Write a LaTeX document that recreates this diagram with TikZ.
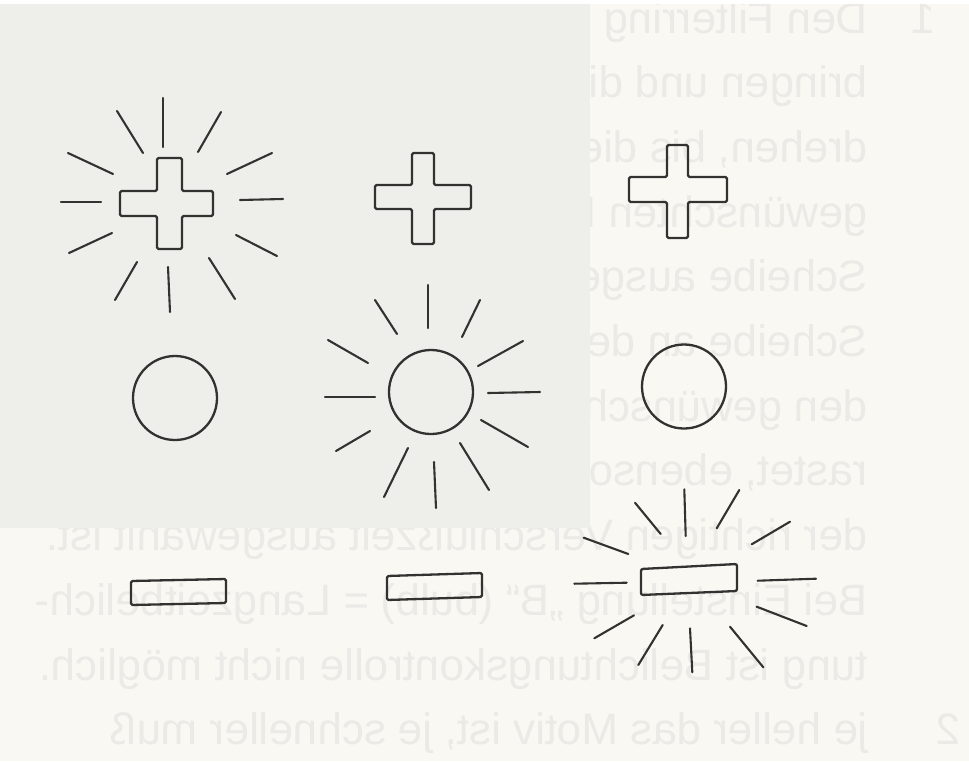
\documentclass[tikz,border=0pt]{standalone}
\usepackage{fontspec}
\newfontfamily\showfont{Liberation Sans}
\definecolor{bgcream}{RGB}{250,248,243}
\definecolor{tint}{RGB}{238,238,235}
\definecolor{ghost}{RGB}{236,234,230}
\definecolor{ink}{RGB}{50,50,48}
\tikzset{
  outline/.style={draw=ink,line width=2.3pt,line join=round},
  ray/.style={draw=ink,line width=2.1pt,line cap=round},
  ghosttext/.style={anchor=base east,inner sep=0pt,text=ghost,font=\showfont\fontsize{44}{44}\selectfont}
}
\begin{document}
\begin{tikzpicture}[x=1pt,y=-1pt]
\useasboundingbox (0,0) rectangle (969,761);
\fill[bgcream] (0,0) rectangle (969,761);
% show-through text of the back page (mirrored)
\node[ghosttext] (t1) at (868,33) {\reflectbox{Den Filterring bis zum Anschlag vorziehen,}};
\node[ghosttext] (t2) at (868,97.7) {\reflectbox{bringen und die Filterscheibe so lange}};
\node[ghosttext] (t3) at (868,162.4) {\reflectbox{drehen, bis die Kennzahl des}};
\node[ghosttext] (t4) at (868,227.1) {\reflectbox{gewünschten Filters im Fenster der}};
\node[ghosttext] (t5) at (868,291.8) {\reflectbox{Scheibe ausgerichtet ist. Dann die}};
\node[ghosttext] (t6) at (868,356.5) {\reflectbox{Scheibe an den Ring drücken, bis}};
\node[ghosttext] (t7) at (868,421.2) {\reflectbox{den gewünschten Filter einrastet.}};
\node[ghosttext] (t8) at (868,485.9) {\reflectbox{rastet, ebenso wie der Ring, bei}};
\node[ghosttext] (t9) at (868,550.6) {\reflectbox{der richtigen Verschlußzeit ausgewählt ist.}};
\node[ghosttext] (t10) at (868,615.3) {\reflectbox{Bei Einstellung „B“ (bulb) = Langzeitbelich-}};
\node[ghosttext] (t11) at (868,680) {\reflectbox{tung ist Belichtungskontrolle nicht möglich.}};
\node[ghosttext] (t12) at (868,744.7) {\reflectbox{je heller das Motiv ist, je schneller muß}};
\node[ghosttext] (n1) at (936,33) {\reflectbox{1}};
\node[ghosttext] (n2) at (961,744.7) {\reflectbox{2}};
% greyish area of the scan
\fill[tint] (0,4) rectangle (590,528);
\fill[white] (0,0) rectangle (969,4);
% ---- top row: crosses ----
\coordinate (plusA) at (168,203);
\coordinate (plusB) at (423,197);
\coordinate (plusC) at (678,190);
\draw[outline,rounded corners=1.5pt] (157,158) -- (182,158) -- (182,191) -- (213,191) -- (213,216) -- (182,216) -- (182,249) -- (157,249) -- (157,216) -- (120,216) -- (120,191) -- (157,191) -- cycle;
\draw[outline,rounded corners=1.5pt] (412,153) -- (434,153) -- (434,185) -- (471,185) -- (471,209) -- (434,209) -- (434,244) -- (412,244) -- (412,209) -- (375,209) -- (375,185) -- (412,185) -- cycle;
\draw[outline,rounded corners=1.5pt] (667,145) -- (688,145) -- (688,177) -- (727,177) -- (727,202) -- (688,202) -- (688,238) -- (667,238) -- (667,202) -- (629,202) -- (629,177) -- (667,177) -- cycle;
% rays of top-left cross
\draw[ray] (163,147) -- (163,98);
\draw[ray] (198,152) -- (221,112);
\draw[ray] (227,174) -- (272,153);
\draw[ray] (240,200) -- (283,199);
\draw[ray] (236,235) -- (277,256);
\draw[ray] (209,258) -- (235,299);
\draw[ray] (168,267) -- (170,312);
\draw[ray] (137,262) -- (115,300);
\draw[ray] (112,233) -- (69,253);
\draw[ray] (101,202) -- (61,202);
\draw[ray] (113,174) -- (68,153);
\draw[ray] (143,153) -- (117,111);
% ---- middle row: circles ----
\node[outline,circle,minimum size=84pt,inner sep=0pt] (circA) at (175,398) {};
\node[outline,circle,minimum size=84pt,inner sep=0pt] (circB) at (431,392) {};
\node[outline,circle,minimum size=84pt,inner sep=0pt] (circC) at (684,386.5) {};
% rays of middle circle
\draw[ray] (428,328) -- (428,285);
\draw[ray] (462,337) -- (480,300);
\draw[ray] (478,366) -- (523,341);
\draw[ray] (488,393) -- (540,392);
\draw[ray] (481,420) -- (528,447);
\draw[ray] (460,443) -- (489,490);
\draw[ray] (434,462) -- (436,508);
\draw[ray] (408,448) -- (384,497);
\draw[ray] (370,431) -- (336,451);
\draw[ray] (375,397) -- (325,397);
\draw[ray] (368,363) -- (328,340);
\draw[ray] (397,334) -- (375,300);
% ---- bottom row: minus bars ----
\coordinate (barA) at (178,592);
\coordinate (barB) at (434,586);
\coordinate (barC) at (689,580);
\draw[outline,rounded corners=1.5pt] (131,581) -- (226,579) -- (226,603) -- (131,605) -- cycle;
\draw[outline,rounded corners=1.5pt] (387,576) -- (482,573) -- (482,597) -- (387,600) -- cycle;
\draw[outline,rounded corners=2pt] (641,569) -- (737,564) -- (737,591) -- (641,595) -- cycle;
% rays of bottom-right bar
\draw[ray] (685.7,536) -- (684.3,489.3);
\draw[ray] (716.7,528.3) -- (739.3,490);
\draw[ray] (751.7,544.3) -- (790,521.7);
\draw[ray] (757.7,580.7) -- (816,578.7);
\draw[ray] (756.7,606.7) -- (806.7,626);
\draw[ray] (730,626.7) -- (763.3,667.3);
\draw[ray] (690,628.3) -- (692.3,672.3);
\draw[ray] (662.7,625) -- (638.3,665);
\draw[ray] (634,615.3) -- (594.3,638.3);
\draw[ray] (626.7,582.7) -- (574.3,583.7);
\draw[ray] (628.3,554) -- (583.7,537.7);
\draw[ray] (660.7,534) -- (635,502.7);
\end{tikzpicture}
\end{document}
